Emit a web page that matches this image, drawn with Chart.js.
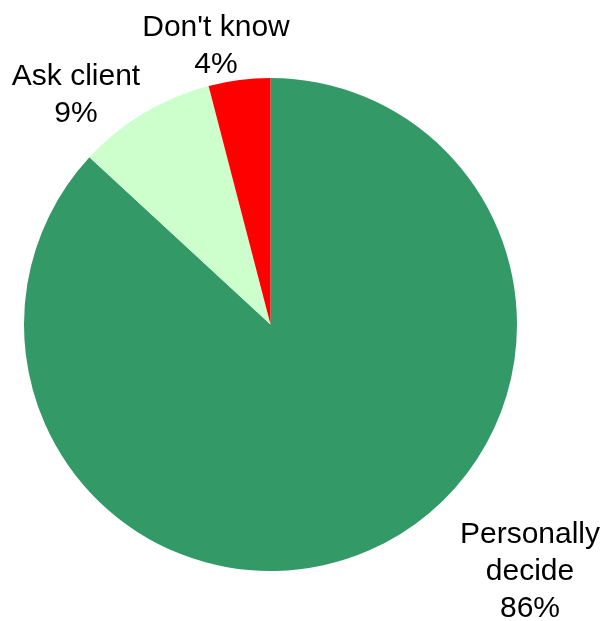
<!DOCTYPE html>
<html>
<head>
<meta charset="utf-8">
<title>Decision</title>
<script src="https://cdn.jsdelivr.net/npm/chart.js@4.4.1/dist/chart.umd.min.js"></script>
<style>
  html, body {
    margin: 0;
    padding: 0;
    background: #ffffff;
  }
  #chart {
    display: block;
  }
</style>
</head>
<body>
<canvas id="chart" width="602" height="621"></canvas>
<script>
  const categories = ["Personally decide", "Ask client", "Don't know"];
  const shares = [86, 9, 4];
  const sliceColors = ["#339966", "#ccffcc", "#ff0000"];

  // label text blocks, one entry per slice (centre x, first baseline y)
  const labelSpots = [
    { x: 530, y: 543, lines: ["Personally", "decide"] },
    { x: 76, y: 85, lines: ["Ask client"] },
    { x: 216, y: 36, lines: ["Don't know"] },
  ];

  const sliceLabels = {
    id: "sliceLabels",
    afterDraw(chart) {
      const ctx = chart.ctx;
      const values = chart.data.datasets[0].data;

      ctx.save();
      ctx.fillStyle = "#000000";
      ctx.font = "30px 'Liberation Sans', Arial, sans-serif";
      ctx.textAlign = "center";
      ctx.textBaseline = "alphabetic";

      labelSpots.forEach((spot, i) => {
        const lines = spot.lines.concat([`${values[i]}%`]);
        lines.forEach((line, k) => {
          ctx.fillText(line, spot.x, spot.y + k * 37);
        });
      });

      ctx.restore();
    },
  };

  new Chart(document.getElementById("chart"), {
    type: "pie",
    data: {
      labels: categories,
      datasets: [
        {
          data: shares,
          backgroundColor: sliceColors,
          borderWidth: 0,
        },
      ],
    },
    options: {
      responsive: false,
      animation: false,
      layout: {
        padding: { left: 24, right: 85, top: 78, bottom: 50 },
      },
      plugins: {
        legend: { display: false },
        tooltip: { enabled: false },
      },
    },
    plugins: [sliceLabels],
  });
</script>
</body>
</html>
